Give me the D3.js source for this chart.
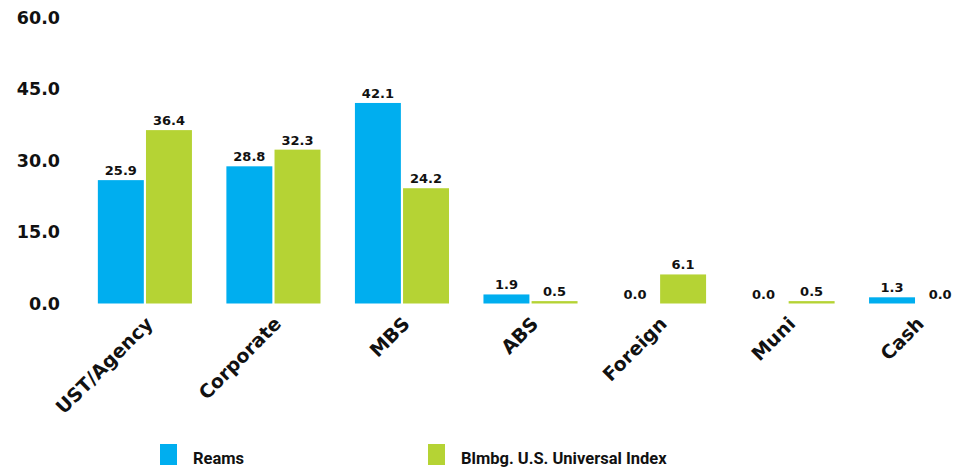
<!DOCTYPE html>
<html>
<head>
<meta charset="utf-8">
<script src="https://cdn.jsdelivr.net/npm/d3@7"></script>
<style>
  body { margin: 0; background: #fff; }
  text { font-family: "DejaVu Sans", sans-serif; font-weight: bold; fill: #111; }
</style>
</head>
<body>
<div id="chart"></div>
<script>
// Chart data
var categories = ["UST/Agency", "Corporate", "MBS", "ABS", "Foreign", "Muni", "Cash"];
var seriesNames = ["Reams", "Blmbg. U.S. Universal Index"];
var reamsValues = [25.9, 28.8, 42.1, 1.9, 0.0, 0.0, 1.3];
var indexValues = [36.4, 32.3, 24.2, 0.5, 6.1, 0.5, 0.0];
var yTicks = [0, 15, 30, 45, 60];
var colors = ["#00AEEF", "#B5D334"];

var width = 969, height = 468;

var svg = d3.select("#chart")
  .append("svg")
  .attr("width", width)
  .attr("height", height);

// Scales
var x = d3.scaleBand()
  .domain(categories)
  .range([85, 976])
  .paddingInner(0.268)
  .paddingOuter(0.1);

var xSub = d3.scaleBand()
  .domain([0, 1])
  .range([0, x.bandwidth()])
  .paddingInner(0.045);

var y = d3.scaleLinear()
  .domain([0, 60])
  .range([303.5, 17.7]);

// Y axis labels only
var yAxis = svg.append("g")
  .attr("transform", "translate(60,0)")
  .call(d3.axisLeft(y).tickValues(yTicks).tickSize(0).tickPadding(0)
    .tickFormat(function (d) { return d.toFixed(1); }));
yAxis.select(".domain").remove();
yAxis.selectAll("text")
  .attr("font-size", "17.5px")
  .attr("fill", "#111");

// Group data
var rows = categories.map(function (c, i) {
  return { cat: c, vals: [reamsValues[i], indexValues[i]] };
});

var groups = svg.selectAll(".grp")
  .data(rows)
  .enter()
  .append("g")
  .attr("class", "grp")
  .attr("transform", function (d) { return "translate(" + x(d.cat) + ",0)"; });

groups.selectAll("rect")
  .data(function (d) { return d.vals; })
  .enter()
  .append("rect")
  .attr("x", function (d, i) { return xSub(i); })
  .attr("width", xSub.bandwidth())
  .attr("y", function (d) { return y(d); })
  .attr("height", function (d) { return y(0) - y(d); })
  .attr("fill", function (d, i) { return colors[i]; });

groups.selectAll(".val")
  .data(function (d) { return d.vals; })
  .enter()
  .append("text")
  .attr("class", "val")
  .attr("x", function (d, i) { return xSub(i) + xSub.bandwidth() / 2; })
  .attr("y", function (d) { return y(d) - 5; })
  .attr("text-anchor", "middle")
  .attr("font-size", "13px")
  .text(function (d) { return d.toFixed(1); });

// Category labels, rotated
svg.selectAll(".cat")
  .data(categories)
  .enter()
  .append("text")
  .attr("class", "cat")
  .attr("text-anchor", "end")
  .attr("font-size", "19px")
  .attr("transform", function (d) {
    return "translate(" + (x(d) + x.bandwidth() / 2 + 9) + ",325) rotate(-45)";
  })
  .text(function (d) { return d; });

// Legend
var legendX = [160, 428];
var legend = svg.selectAll(".legend")
  .data(seriesNames)
  .enter()
  .append("g")
  .attr("class", "legend")
  .attr("transform", function (d, i) { return "translate(" + legendX[i] + ",444)"; });

legend.append("rect")
  .attr("width", 17)
  .attr("height", 21)
  .attr("fill", function (d, i) { return colors[i]; });

legend.append("text")
  .attr("x", 33)
  .attr("y", 20)
  .attr("font-size", "16.5px")
  .style("font-family", "Roboto, sans-serif")
  .text(function (d) { return d; });
</script>
</body>
</html>
